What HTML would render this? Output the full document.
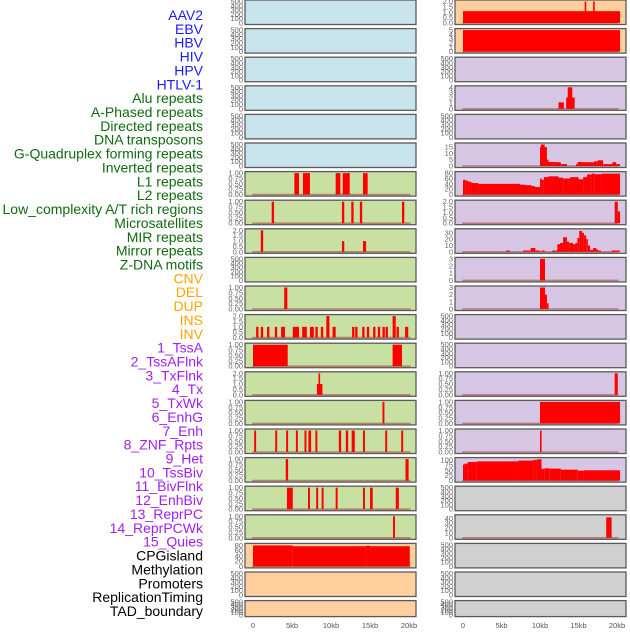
<!DOCTYPE html>
<html><head><meta charset="utf-8"><style>
body{margin:0;background:#fff;width:630px;height:630px;overflow:hidden}
svg text{font-family:"Liberation Sans",sans-serif}
</style></head><body>
<svg id="c" width="630" height="630" xmlns="http://www.w3.org/2000/svg"></svg>
<script>
const labels = ["AAV2","EBV","HBV","HIV","HPV","HTLV-1","Alu repeats","A-Phased repeats","Directed repeats","DNA transposons","G-Quadruplex forming repeats","Inverted repeats","L1 repeats","L2 repeats","Low_complexity A/T rich regions","Microsatellites","MIR repeats","Mirror repeats","Z-DNA motifs","CNV","DEL","DUP","INS","INV","1_TssA","2_TssAFlnk","3_TxFlnk","4_Tx","5_TxWk","6_EnhG","7_Enh","8_ZNF_Rpts","9_Het","10_TssBiv","11_BivFlnk","12_EnhBiv","13_ReprPC","14_ReprPCWk","15_Quies","CPGisland","Methylation","Promoters","ReplicationTiming","TAD_boundary"];
const labelGroups = [6,13,5,15,5];
const groupColors = ["#1a1aff","#0f6b0f","#ffa500","#a020f0","#000"];
const xTickLabels = ["0","5kb","10kb","15kb","20kb"];
const xTickValues = [0,5,10,15,20];

// segments: [startKb, endKb, value]
const empty = [];
const alu = [[5.3,5.9,1],[6.4,7.3,1],[10.6,11.2,1],[11.5,12.4,1],[14.1,14.7,1]];
const aPhased = [[2.4,2.7,1],[11.4,11.7,1],[12.6,12.9,1],[13.7,14.0,1],[19.1,19.4,1]];
const directed = [[1.0,1.3,2],[11.4,11.7,1],[14.1,14.5,1]];
const gQuad = [[4.0,4.4,1]];
const inverted = [[0.4,0.7,1],[1.0,1.3,1],[1.8,2.1,1],[2.8,3.1,1],[3.6,4.1,1],[5.1,5.9,1],[6.3,6.9,1],[7.3,7.8,1],[8.0,8.3,1],[8.7,9.0,1],[9.4,9.8,2],[10.2,10.6,1],[12.7,13.0,1],[13.1,13.4,1],[14.0,14.3,1],[14.6,14.9,1],[15.4,15.7,1],[16.0,16.3,1],[16.6,16.9,1],[17.0,17.3,1],[17.9,18.3,2],[18.4,18.7,1],[19.5,19.9,1]];
const l1 = [[0,4.45,1],[17.9,19.1,1]];
const l2 = [[8.2,8.9,1],[8.4,8.6,2]];
const lowComplexity = [[16.6,16.85,1]];
const micro = [[0.15,0.4,1],[2.85,3.1,1],[4.25,4.5,1],[5.5,5.75,1],[6.6,6.85,1],[7.1,7.45,1],[8.0,8.25,1],[11.0,11.3,1],[11.9,12.2,1],[12.65,13.05,1],[14.1,14.35,1],[16.95,17.2,1],[19.0,19.25,1]];
const mir = [[4.2,4.5,1],[19.55,19.95,1]];
const mirror = [[4.35,5.1,1],[7.05,7.3,1],[8.1,8.35,1],[8.8,9.05,1],[10.6,10.85,1],[14.1,14.35,1],[15.0,15.35,1],[18.3,18.7,1]];
const zdna = [[17.95,18.2,1]];
const cnv = [[0,5.1,80],[5.1,14.5,77],[14.5,15.0,79],[15.0,20.1,77]];
const ins = [[0,20.4,1.1],[15.8,16.0,2],[16.9,17.1,2]];
const inv = [[0,20.4,5]];
const tssaflnk = [[12.4,13.1,1.2],[13.4,14.5,2.1],[13.6,14.2,4]];
const tx = [[10.0,10.9,15],[10.1,10.6,17],[10.9,11.1,5],[11.1,11.8,3.2],[11.8,12.7,3],[12.7,13.5,1.5],[14.7,14.9,1.5],[14.9,15.5,3.2],[15.5,17.0,3],[17.0,17.5,3.7],[17.5,18.2,4.5],[18.2,19.4,1.5],[19.4,19.9,3],[19.9,20.4,1.5]];
const txwk = [[0,0.35,55],[0.35,0.7,52],[0.7,1.1,48],[1.1,2.0,43],[2.0,7.4,40],[7.4,8.05,37],[8.05,8.9,35],[8.9,9.35,32],[9.35,10.0,28],[10.0,10.2,60],[10.2,10.5,55],[10.5,11.1,65],[11.1,12.4,68],[12.4,13.0,63],[13.0,13.9,60],[13.9,15.0,65],[15.0,15.6,57],[15.6,16.1,65],[16.1,16.7,75],[16.7,17.1,78],[17.1,18.0,76],[18.0,20.4,78]];
const enhg = [[19.7,20.1,2],[20.1,20.4,1.1]];
const enh = [[5.6,6.1,2],[7.8,8.8,2],[8.8,9.4,6],[9.4,10.0,2],[10.2,10.6,2],[11.6,12.25,2],[12.25,12.6,12],[12.6,13.0,14],[13.0,13.5,23],[13.5,13.8,16],[13.8,14.3,14],[14.3,14.6,12],[14.6,14.85,14],[14.85,15.1,22],[15.1,15.45,33],[15.45,15.7,30],[15.7,16.0,26],[16.0,16.2,20],[16.2,16.5,10],[16.5,16.9,3],[16.9,17.3,6],[17.3,17.5,4],[17.5,17.9,2],[19.3,20.4,2]];
const znf = [[10.0,10.65,3]];
const het = [[10.0,10.65,3],[10.65,10.9,2],[10.9,11.05,0.8]];
const enhbiv = [[19.7,20.1,1]];
const reprpc = [[10.0,20.4,1]];
const reprpcwk = [[10.0,10.2,1]];
const quies = [[0,0.2,78],[0.2,0.6,82],[0.6,1.8,90],[1.8,7.2,93],[7.2,9.1,97],[9.1,9.6,100],[9.6,10.2,103],[10.2,10.6,57],[10.6,11.2,60],[11.2,12.7,58],[12.7,14.9,53],[14.9,15.7,48],[15.7,20.4,50]];
const methylation = [[18.6,19.3,42]];

const T500 = {max:500, ticks:[0,100,200,300,400,500], fmt:v=>String(v)};
const T1 = {max:1, ticks:[0,0.25,0.5,0.75,1], fmt:v=>v.toFixed(2)};
const T2 = {max:2, ticks:[0,0.5,1,1.5,2], fmt:v=>v.toFixed(1)};
const leftTracks = [
 [empty,T500,"b"],[empty,T500,"b"],[empty,T500,"b"],[empty,T500,"b"],[empty,T500,"b"],[empty,T500,"b"],
 [alu,T1,"g"],[aPhased,T1,"g"],[directed,T2,"g"],[empty,T500,"g"],[gQuad,T1,"g"],[inverted,T2,"g"],[l1,T1,"g"],[l2,T2,"g"],[lowComplexity,T1,"g"],[micro,T1,"g"],[mir,T1,"g"],[mirror,T1,"g"],[zdna,T1,"g"],
 [cnv,{max:82,ticks:[0,20,40,60,80],fmt:String},"o"],[empty,T500,"o"],[empty,T500,"o"]];
const rightTracks = [
 [ins,T2,"o"],[inv,{max:5,ticks:[0,1,2,3,4,5],fmt:String},"o"],
 [empty,T500,"p"],[tssaflnk,{max:4,ticks:[0,1,2,3,4],fmt:String},"p"],[empty,T500,"p"],[tx,{max:17,ticks:[0,5,10,15],fmt:String},"p"],[txwk,{max:80,ticks:[0,20,40,60,80],fmt:String},"p"],[enhg,T2,"p"],[enh,{max:34,ticks:[0,10,20,30],fmt:String},"p"],[znf,{max:3,ticks:[0,1,2,3],fmt:String},"p"],[het,{max:3,ticks:[0,1,2,3],fmt:String},"p"],[empty,T500,"p"],[empty,T500,"p"],[enhbiv,T1,"p"],[reprpc,T1,"p"],[reprpcwk,T1,"p"],[quies,{max:104,ticks:[0,25,50,75,100],fmt:String},"p"],
 [empty,T500,"x"],[methylation,{max:44,ticks:[0,10,20,30,40],fmt:String},"x"],[empty,T500,"x"],[empty,T500,"x"],[empty,T500,"x"]];
const bg = {b:"#c8e4ec",g:"#c8e0a2",o:"#ffd09e",p:"#d6c6e3",x:"#d0d0d0"};

const svg = document.getElementById('c');
const NS = "http://www.w3.org/2000/svg";
function mk(tag, attrs, parent){const e=document.createElementNS(NS,tag);for(const k in attrs)e.setAttribute(k,attrs[k]);(parent||svg).appendChild(e);return e;}

let li=0;
labelGroups.forEach((n,g)=>{for(let k=0;k<n;k++){const t=mk('text',{x:203,y:20+li*13.86,'text-anchor':'end','font-size':14,fill:groupColors[g]});t.textContent=labels[li];

li++;}});

function drawCol(tracks, px, pw, x0, kbPx, cname){
  const xs = kb => x0 + kb*kbPx;
  tracks.forEach((tr,i)=>{
    const [segs,ax,col]=tr;
    const top = i*28.6, h = i===21?16:24.5, bot=top+h;
    const ys = v => bot-1.5 - v/ax.max*(h-3);
    const g = mk('g',{});
    
    
    mk('rect',{x:px,y:top,width:pw,height:h,fill:bg[col]},g);
    ax.ticks.forEach(v=>{const t=mk('text',{x:px-2,y:ys(v)+2.5,'text-anchor':'end','font-size':7.5,fill:'#666'},g);t.textContent=ax.fmt(v);});
    if(ax!==T500) mk('line',{x1:xs(-0.1),x2:xs(20.2),y1:bot-1.5,y2:bot-1.5,stroke:'rgba(170,60,60,0.55)','stroke-width':1.6},g);
    segs.forEach(s=>{
      const x1=xs(s[0]), w=Math.max(1.6,xs(s[1])-x1), y=ys(s[2]);
      const r=mk('rect',{x:x1,y:y,width:w,height:bot-1.5-y,fill:'#ff0000'},g);
      
      
    });
    mk('rect',{x:px,y:top,width:pw,height:h,fill:'none',stroke:'#5a5a5a','stroke-width':1.3},g);
  });
  xTickValues.forEach((v,j)=>{const t=mk('text',{x:xs(v),y:628,'text-anchor':'middle','font-size':7.5,fill:'#555'});t.textContent=xTickLabels[j];
  
  });
}
drawCol(leftTracks,245,171,253,7.8,'left');
drawCol(rightTracks,455,171,463,7.7,'right');
</script>
</body></html>
